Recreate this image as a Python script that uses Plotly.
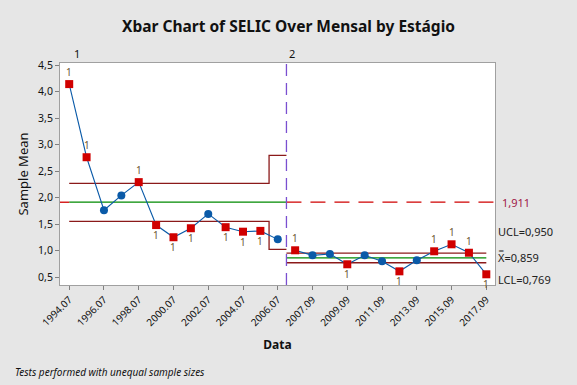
import plotly.graph_objects as go

# ---------------- data ----------------
dates_stage1 = ["1994.07", "1995.07", "1996.07", "1997.07", "1998.07", "1999.07", "2000.07",
                "2001.07", "2002.07", "2003.07", "2004.07", "2005.07", "2006.07"]
dates_stage2 = ["2006.09", "2007.09", "2008.09", "2009.09", "2010.09", "2011.09",
                "2012.09", "2013.09", "2014.09", "2015.09", "2016.09", "2017.09"]
means_stage1 = [4.14, 2.76, 1.76, 2.04, 2.29, 1.48, 1.25, 1.42, 1.69, 1.44, 1.355, 1.37, 1.21]
means_stage2 = [1.004, 0.909, 0.934, 0.740, 0.910, 0.796, 0.607, 0.815, 0.985, 1.117, 0.958, 0.551]
ucl_stage1 = [2.268] * 12 + [2.796]
lcl_stage1 = [1.551] * 12 + [1.023]
center_stage1 = 1.911
ucl_stage2 = [0.950] * 12
lcl_stage2 = [0.769] * 12
center_stage2 = 0.859
tick_labels = ["1994.07", "1996.07", "1998.07", "2000.07", "2002.07", "2004.07", "2006.07",
               "2007.09", "2009.09", "2011.09", "2013.09", "2015.09", "2017.09"]
y_ticks = [0.5, 1.0, 1.5, 2.0, 2.5, 3.0, 3.5, 4.0, 4.5]
stage_names = ["1", "2"]

FONT = "Noto Sans"
BLUE = "#0a5aa8"
RED = "#d00000"
MAROON = "#8b1a1a"
GREEN = "#008a00"

n1 = len(means_stage1)
n2 = len(means_stage2)
x1 = list(range(n1))
x2 = list(range(n1, n1 + n2))
boundary = n1 - 0.5
x_left, x_right = -0.53, x2[-1] + 0.5

fig = go.Figure()

# control limits stage 1 (step lines)
for lim in (ucl_stage1, lcl_stage1):
    fig.add_trace(go.Scatter(x=x1 + [boundary], y=lim + [lim[-1]], mode="lines",
                             line=dict(color=MAROON, width=1.3, shape="hvh"),
                             hoverinfo="skip", showlegend=False))
# center stage 1
fig.add_trace(go.Scatter(x=[x1[0], boundary], y=[center_stage1] * 2, mode="lines",
                         line=dict(color=GREEN, width=1.3), showlegend=False))
fig.add_trace(go.Scatter(x=[x_left, x1[0]], y=[center_stage1] * 2, mode="lines",
                         line=dict(color=RED, width=1.3), showlegend=False))
fig.add_trace(go.Scatter(x=[boundary, x_right], y=[center_stage1] * 2, mode="lines",
                         line=dict(color=RED, width=1.3, dash="15px,9px"), showlegend=False))
# stage 2 limits
for lim in (ucl_stage2, lcl_stage2):
    fig.add_trace(go.Scatter(x=[boundary] + x2, y=[lim[0]] + lim, mode="lines",
                             line=dict(color=MAROON, width=1.3, shape="hvh"), showlegend=False))
fig.add_trace(go.Scatter(x=[boundary, x2[-1]], y=[center_stage2] * 2, mode="lines",
                         line=dict(color=GREEN, width=1.3), showlegend=False))

# data line (not connected across stages)
fig.add_trace(go.Scatter(x=x1 + [None] + x2, y=means_stage1 + [None] + means_stage2,
                         mode="lines", line=dict(color=BLUE, width=1.1),
                         connectgaps=False, showlegend=False))

xs = x1 + x2
ys = means_stage1 + means_stage2
ucls = ucl_stage1 + ucl_stage2
lcls = lcl_stage1 + lcl_stage2
inx, iny, outx, outy = [], [], [], []
for x, y, u, l in zip(xs, ys, ucls, lcls):
    if y > u or y < l:
        outx.append(x); outy.append(y)
        fig.add_annotation(x=x, y=y, text="1", showarrow=False,
                           yshift=12 if y > u else -10,
                           font=dict(family=FONT, size=10, color="#6a5530"))
    else:
        inx.append(x); iny.append(y)

fig.add_trace(go.Scatter(x=inx, y=iny, mode="markers",
                         marker=dict(symbol="circle", size=8, color=BLUE), showlegend=False))
fig.add_trace(go.Scatter(x=outx, y=outy, mode="markers",
                         marker=dict(symbol="square", size=8, color=RED), showlegend=False))

# stage divider
fig.add_shape(type="line", xref="x", yref="paper", x0=boundary, x1=boundary, y0=0, y1=1,
              line=dict(color="#7a4fd0", width=1.3, dash="12px,7px"))

# stage labels
fig.add_annotation(x=x1[0] + 0.45, y=1, yref="paper", yanchor="bottom", yshift=0,
                   text=stage_names[0], showarrow=False,
                   font=dict(family=FONT, size=11, color="#111"))
fig.add_annotation(x=boundary + 0.3, y=1, yref="paper", yanchor="bottom", yshift=0,
                   text=stage_names[1], showarrow=False,
                   font=dict(family=FONT, size=11, color="#111"))

# right-side labels
def fmt(v):
    return f"{v:.3f}".replace(".", ",")

right = dict(xref="paper", x=1, xanchor="left", showarrow=False)
fig.add_annotation(**right, y=center_stage1, xshift=5, text=fmt(center_stage1),
                   font=dict(family=FONT, size=11, color="#a01848"))
fig.add_annotation(**right, y=ucl_stage2[-1], yshift=22, xshift=1, text="UCL=" + fmt(ucl_stage2[-1]),
                   font=dict(family=FONT, size=11, color="#222"))
fig.add_annotation(**right, y=center_stage2, xshift=1, text="X\u033f=" + fmt(center_stage2),
                   font=dict(family=FONT, size=11, color="#222"))
fig.add_annotation(**right, y=lcl_stage2[-1], yshift=-17, xshift=1, text="LCL=" + fmt(lcl_stage2[-1]),
                   font=dict(family=FONT, size=11, color="#222"))

# footnote
fig.add_annotation(xref="paper", yref="paper", x=-0.108, y=-0.39, xanchor="left", yanchor="middle",
                   text="<i>Tests performed with unequal sample sizes</i>", showarrow=False,
                   font=dict(family=FONT, size=10, color="#111"))

tickvals = [(dates_stage1 + dates_stage2).index(t) for t in tick_labels]

fig.update_layout(
    width=577, height=385,
    margin=dict(l=60, r=82, t=63, b=100),
    paper_bgcolor="#e6e6e6", plot_bgcolor="white",
    font=dict(family=FONT, color="#111"),
    title=dict(text="<b>Xbar Chart of SELIC Over Mensal by Estágio</b>", x=0.5, xanchor="center",
               y=0.932, yanchor="middle", font=dict(size=15.5, family=FONT, color="#111")),
    xaxis=dict(range=[x_left, x_right], tickvals=tickvals, ticktext=tick_labels, tickangle=-45,
               showgrid=False, zeroline=False, showline=True, mirror=True, linecolor="#a0a0a0",
               ticks="outside", ticklen=4, tickcolor="#808080", tickfont=dict(size=10),
               title=dict(text="<b>Data</b>", font=dict(size=12), standoff=12)),
    yaxis=dict(range=[0.349, 4.538], tickvals=y_ticks, ticktext=[f"{v:.1f}".replace(".", ",") for v in y_ticks],
               showgrid=False, zeroline=False, showline=True, mirror=True, linecolor="#a0a0a0",
               ticks="outside", ticklen=4, tickcolor="#808080", tickfont=dict(size=10.5),
               title=dict(text="Sample Mean", font=dict(size=13), standoff=6)),
)

fig.write_html("out.html", config={"displayModeBar": False},
               post_script="document.body.style.margin='0px';document.body.style.overflow='hidden';"
                           "document.body.style.background='#e6e6e6';")
